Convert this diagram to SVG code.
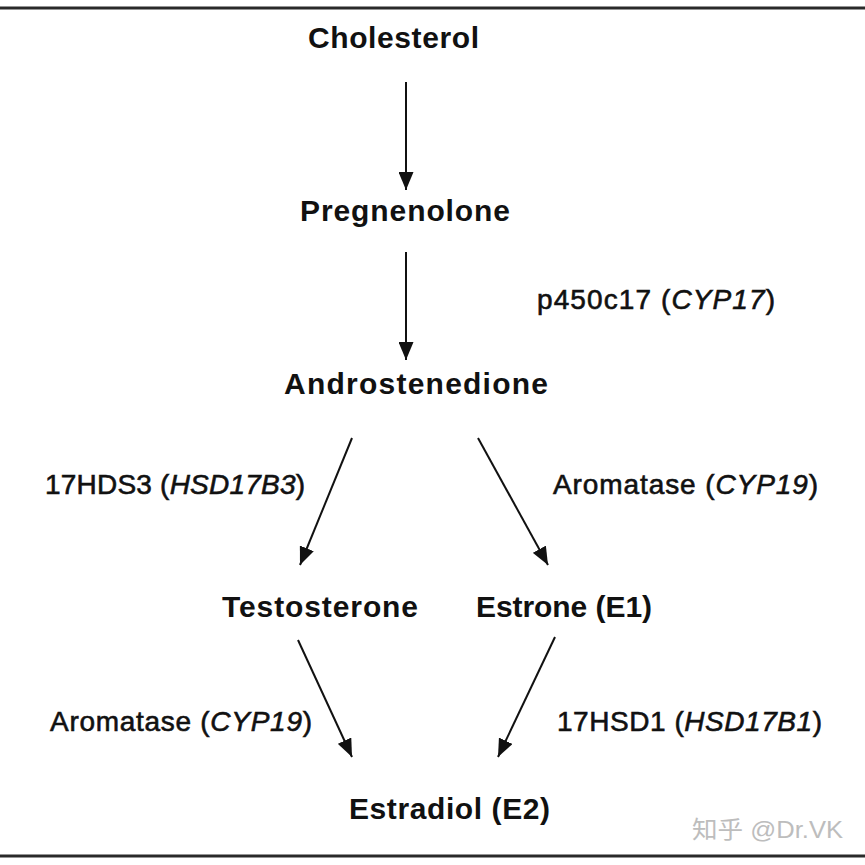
<svg xmlns="http://www.w3.org/2000/svg" width="865" height="865" viewBox="0 0 865 865">
<style>
.node{font-family:"Liberation Sans",Arial,sans-serif;font-weight:bold;font-size:30px;fill:#111}
.lbl{font-family:"Liberation Sans",Arial,sans-serif;font-weight:normal;font-size:28px;fill:#111;stroke:#111;stroke-width:0.6}
.it{font-style:italic}
.conn{stroke:#111;stroke-width:2;fill:none;marker-end:url(#ah)}
.frame{stroke:#2a2a2a;stroke-width:3}
.wm{font-family:"Liberation Sans","Noto Sans CJK SC",sans-serif;font-size:24px;fill:#bdbdbd}
</style>
<defs>
<marker id="ah" viewBox="0 0 18 15" refX="18" refY="7.5" markerWidth="18" markerHeight="15" markerUnits="userSpaceOnUse" orient="auto">
<path d="M0,0 L18,7.5 L0,15 z" fill="#111"/>
</marker>
</defs>
<rect width="865" height="865" fill="#fff"/>
<line class="frame" x1="0" y1="8" x2="865" y2="8"/>
<line class="frame" x1="0" y1="856" x2="865" y2="856"/>
<g id="connectors">
<line class="conn" x1="406" y1="82" x2="406" y2="190"/>
<line class="conn" x1="406" y1="252" x2="406" y2="360"/>
<line class="conn" x1="352" y1="438" x2="300" y2="565"/>
<line class="conn" x1="478" y1="438" x2="548" y2="565"/>
<line class="conn" x1="298" y1="640" x2="352" y2="757"/>
<line class="conn" x1="555" y1="637" x2="498" y2="757"/>
</g>
<g id="cholesterol"><text class="node" x="308" y="48" textLength="171" lengthAdjust="spacing">Cholesterol</text></g>
<g id="pregnenolone"><text class="node" x="300" y="221" textLength="210" lengthAdjust="spacing">Pregnenolone</text></g>
<g id="androstenedione"><text class="node" x="284" y="394" textLength="264" lengthAdjust="spacing">Androstenedione</text></g>
<g id="testosterone"><text class="node" x="222" y="617" textLength="196" lengthAdjust="spacing">Testosterone</text></g>
<g id="estrone"><text class="node" x="476" y="617" textLength="176" lengthAdjust="spacing">Estrone (E1)</text></g>
<g id="estradiol"><text class="node" x="349" y="819" textLength="201" lengthAdjust="spacing">Estradiol (E2)</text></g>
<g id="labels">
<text class="lbl" x="537" y="309" textLength="238" lengthAdjust="spacing">p450c17 (<tspan class="it">CYP17</tspan>)</text>
<text class="lbl" x="45" y="494" textLength="260" lengthAdjust="spacing">17HDS3 (<tspan class="it">HSD17B3</tspan>)</text>
<text class="lbl" x="553" y="494" textLength="265" lengthAdjust="spacing">Aromatase (<tspan class="it">CYP19</tspan>)</text>
<text class="lbl" x="50" y="731" textLength="262" lengthAdjust="spacing">Aromatase (<tspan class="it">CYP19</tspan>)</text>
<text class="lbl" x="557" y="731" textLength="265" lengthAdjust="spacing">17HSD1 (<tspan class="it">HSD17B1</tspan>)</text>
</g>
<text class="wm" x="692" y="838" textLength="151" lengthAdjust="spacingAndGlyphs">知乎 @Dr.VK</text>
</svg>
